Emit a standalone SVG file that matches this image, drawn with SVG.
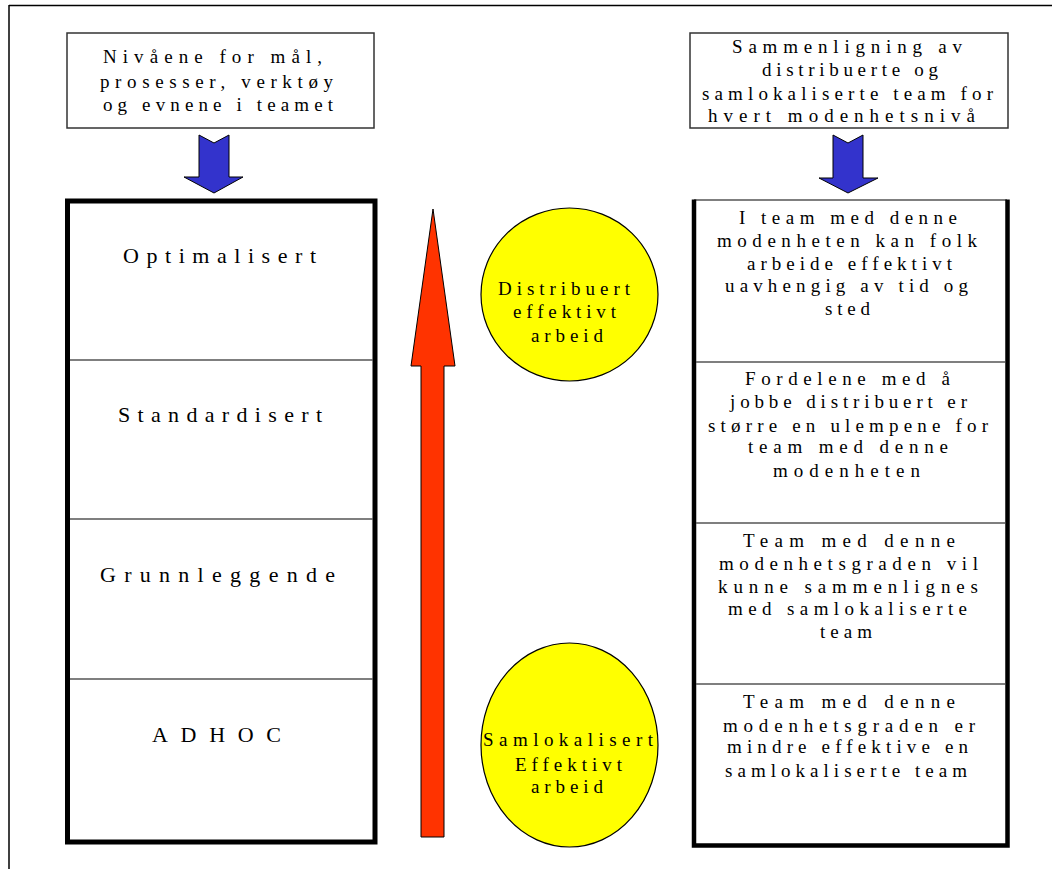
<svg xmlns="http://www.w3.org/2000/svg" width="1052" height="869" viewBox="0 0 1052 869">
<style>
.t{font-family:"Liberation Serif","Times New Roman",serif;font-size:19px;fill:#000}
.lb{font-size:22px}
.box{fill:#fff;stroke:#333;stroke-width:1.5}
.div{stroke:#555;stroke-width:1.5;fill:none}
.thick{stroke:#000;stroke-width:5;fill:none}
.blue{fill:#3333CC;stroke:#000;stroke-width:1}
.ell{fill:#FFFF00;stroke:#000;stroke-width:1.2}
</style>
<rect width="1052" height="869" fill="#fff"/>
<g id="frame">
<line x1="9" y1="5.5" x2="1052" y2="5.5" stroke="#000" stroke-width="1.5"/>
<line x1="9" y1="5" x2="9" y2="869" stroke="#000" stroke-width="1.5"/>
</g>
<g id="box-left">
<rect class="box" x="67" y="33" width="307" height="95"/>
<text class="t" x="103" y="63" textLength="219" lengthAdjust="spacing">Nivåene for mål,</text>
<text class="t" x="100" y="88" textLength="233" lengthAdjust="spacing">prosesser, verktøy</text>
<text class="t" x="103" y="111" textLength="230" lengthAdjust="spacing">og evnene i teamet</text>
</g>
<g id="box-right">
<rect class="box" x="690" y="33" width="318" height="95"/>
<text class="t" x="732" y="53" textLength="230" lengthAdjust="spacing">Sammenligning av</text>
<text class="t" x="762" y="76" textLength="176" lengthAdjust="spacing">distribuerte og</text>
<text class="t" x="702" y="100" textLength="291" lengthAdjust="spacing">samlokaliserte team for</text>
<text class="t" x="708" y="122" textLength="267" lengthAdjust="spacing">hvert modenhetsnivå</text>
</g>
<g id="levels">
<rect class="thick" x="67.5" y="201" width="307.5" height="641"/>
<line class="div" x1="70" y1="360" x2="373" y2="360"/>
<line class="div" x1="70" y1="519" x2="373" y2="519"/>
<line class="div" x1="70" y1="679" x2="373" y2="679"/>
<text class="t lb" x="123" y="263" textLength="193" lengthAdjust="spacing">Optimalisert</text>
<text class="t lb" x="118" y="422" textLength="204" lengthAdjust="spacing">Standardisert</text>
<text class="t lb" x="100" y="582" textLength="235" lengthAdjust="spacing">Grunnleggende</text>
<text class="t lb" x="152" y="742" textLength="129" lengthAdjust="spacing">ADHOC</text>
</g>
<g id="comparison">
<line class="div" x1="694" y1="200" x2="1007" y2="200"/>
<path d="M694 199.5 V845.5 H1007.5 V199.5" stroke="#000" stroke-width="4.5" fill="none"/>
<line class="div" x1="696" y1="362" x2="1005" y2="362"/>
<line class="div" x1="696" y1="523" x2="1005" y2="523"/>
<line class="div" x1="696" y1="684" x2="1005" y2="684"/>
<text class="t" x="739" y="224" textLength="218" lengthAdjust="spacing">I team med denne</text>
<text class="t" x="717" y="247" textLength="260" lengthAdjust="spacing">modenheten kan folk</text>
<text class="t" x="747" y="270" textLength="205" lengthAdjust="spacing">arbeide effektivt</text>
<text class="t" x="725" y="292" textLength="243" lengthAdjust="spacing">uavhengig av tid og</text>
<text class="t" x="825" y="315" textLength="45" lengthAdjust="spacing">sted</text>
<text class="t" x="745" y="385" textLength="205" lengthAdjust="spacing">Fordelene med å</text>
<text class="t" x="730" y="408" textLength="237" lengthAdjust="spacing">jobbe distribuert er</text>
<text class="t" x="708" y="432" textLength="280" lengthAdjust="spacing">større en ulempene for</text>
<text class="t" x="748" y="453" textLength="200" lengthAdjust="spacing">team med denne</text>
<text class="t" x="773" y="477" textLength="147" lengthAdjust="spacing">modenheten</text>
<text class="t" x="743" y="547" textLength="212" lengthAdjust="spacing">Team med denne</text>
<text class="t" x="719" y="570" textLength="259" lengthAdjust="spacing">modenhetsgraden vil</text>
<text class="t" x="718" y="593" textLength="260" lengthAdjust="spacing">kunne sammenlignes</text>
<text class="t" x="728" y="615" textLength="239" lengthAdjust="spacing">med samlokaliserte</text>
<text class="t" x="820" y="638" textLength="52" lengthAdjust="spacing">team</text>
<text class="t" x="743" y="708" textLength="212" lengthAdjust="spacing">Team med denne</text>
<text class="t" x="723" y="732" textLength="252" lengthAdjust="spacing">modenhetsgraden er</text>
<text class="t" x="727" y="753" textLength="241" lengthAdjust="spacing">mindre effektive en</text>
<text class="t" x="725" y="777" textLength="242" lengthAdjust="spacing">samlokaliserte team</text>
</g>
<g id="distributed">
<ellipse class="ell" cx="569.5" cy="294.5" rx="88.5" ry="86.5"/>
<text class="t" x="498" y="295" textLength="132" lengthAdjust="spacing">Distribuert</text>
<text class="t" x="513" y="318" textLength="103" lengthAdjust="spacing">effektivt</text>
<text class="t" x="531" y="342" textLength="72" lengthAdjust="spacing">arbeid</text>
</g>
<g id="colocated">
<ellipse class="ell" cx="569.5" cy="745" rx="88.5" ry="102"/>
<text class="t" x="483" y="746" textLength="170" lengthAdjust="spacing">Samlokalisert</text>
<text class="t" x="515" y="771" textLength="107" lengthAdjust="spacing">Effektivt</text>
<text class="t" x="531" y="793" textLength="72" lengthAdjust="spacing">arbeid</text>
</g>
<g id="connectors">
<polygon class="blue" points="199,135 214,143 229,135 229,177 243,177 214,193 184,177 199,177"/>
<polygon class="blue" points="833,135 848,143 863,135 863,178 878,178 848,193 819,178 833,178"/>
<polygon points="433,209 455,366 444,366 444,837 421,837 421,366 411,366" fill="#FF3300" stroke="#000" stroke-width="1"/>
</g>
</svg>
